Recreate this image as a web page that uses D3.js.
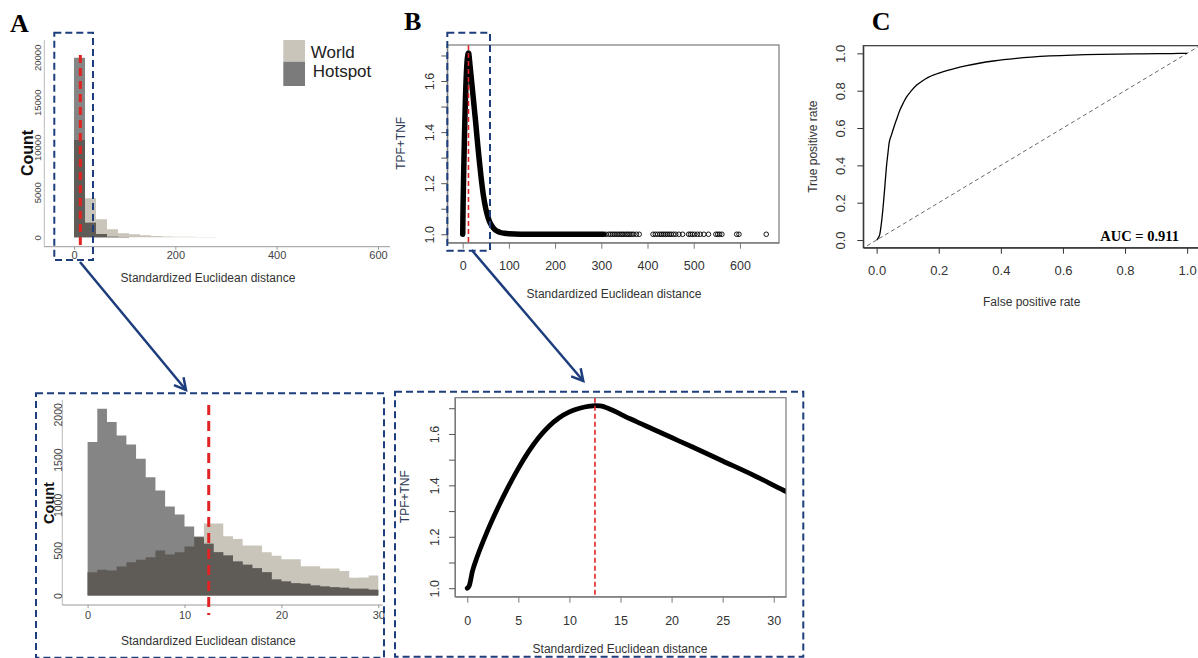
<!DOCTYPE html>
<html><head><meta charset="utf-8">
<script src="https://cdn.jsdelivr.net/npm/d3@7"></script>
<style>body{margin:0;background:#fff}svg{display:block}</style>
</head><body>
<svg id="c" width="1198" height="658"></svg>
<script>
// ---------------- DATA ----------------
// Panel A (overview histogram): bin width in distance units, counts per bin
const histBinWidth = 21.7;
const worldOverview   = [10800, 4330, 2000, 890, 440, 330, 220, 150, 100, 70, 50, 30, 20, 10];
const hotspotOverview = [19950, 1620, 370, 70, 20, 8, 3, 0, 0, 0, 0, 0, 0, 0];
const overviewXTicks = [0, 200, 400, 600];
const overviewYTicks = [0, 5000, 10000, 15000, 20000];

// Panel A zoom (0–30, bin width 1)
const zoomBinStarts = [0,1,2,3,4,5,6,7,8,9,10,11,12,13,14,15,16,17,18,19,20,21,22,23,24,25,26,27,28,29];
const hotspotZoom = [1693,2061,1914,1766,1667,1509,1306,1159,983,894,762,651,570,478,442,375,339,302,258,177,155,136,129,110,99,92,85,74,74,63];
const worldZoom   = [258,283,276,320,368,394,423,497,453,478,541,644,795,795,655,625,551,551,476,439,400,400,322,322,297,297,270,195,200,221];
const zoomHistXTicks = [0, 10, 20, 30];
const zoomHistYTicks = [0, 500, 1000, 1500, 2000];

// Threshold
const threshold = 12.5;

// Panel B: TPF+TNF vs distance
const distCurve = [0,0.2,0.5,1,2,3,4,5,6,7,8,9,10,11,12,12.5,13,14,15,16,17,18,20,22,25,28,31,35,40,45,50,55,60,65,70,80,90,100,150,200,250,305];
const tpfCurve  = [1.0,1.01,1.065,1.125,1.225,1.313,1.393,1.466,1.531,1.586,1.63,1.663,1.686,1.70,1.708,1.71,1.709,1.696,1.677,1.658,1.64,1.622,1.586,1.55,1.495,1.44,1.38,1.305,1.22,1.15,1.10,1.065,1.042,1.028,1.018,1.008,1.004,1.002,1.0,1.0,1.0,1.0];
const tailDist = [310,316,320,324,328,332,336,340,344,347,351,355,358,362,366,370,376,382,412,417,422,427,431,435,439,443,447,451,456,461,468,476,489,493,497,502,508,514,522,532,548,552,556,561,593,598,657];
const tailTpf = tailDist.map(() => 1.0);
const curveXTicks = [0,100,200,300,400,500,600];
const curveZoomXTicks = [0,5,10,15,20,25,30];
const curveYTicks = [1.0,1.1,1.2,1.3,1.4,1.5,1.6,1.7];
const curveYLabels = [1.0,1.2,1.4,1.6];

// Panel C: ROC
const fpr = [0,0.004,0.01,0.016,0.022,0.027,0.032,0.036,0.04,0.048,0.056,0.065,0.075,0.086,0.097,0.112,0.129,0.147,0.166,0.19,0.215,0.25,0.29,0.33,0.376,0.45,0.558,0.72,0.85,0.95,1.0];
const tpr = [0,0.008,0.03,0.1,0.2,0.3,0.4,0.46,0.518,0.565,0.607,0.65,0.696,0.735,0.768,0.8,0.83,0.852,0.871,0.888,0.902,0.918,0.934,0.947,0.959,0.973,0.986,0.995,0.997,0.999,1.0];
const rocTicks = [0,0.2,0.4,0.6,0.8,1.0];
const aucLabel = "AUC = 0.911";

// ---------------- STYLE ----------------
const SANS = "'Liberation Sans', Arial, Helvetica, sans-serif";
const SERIF = "'Liberation Serif', 'Times New Roman', serif";
const C_WORLD = "#c9c5bb", C_HOT = "#858585", C_OVER = "#5f5b56";
const NAVY = "#1d3d7c", RED = "#e32222";

const svg = d3.select("#c");
const fmt1 = d3.format(".1f");

function text(x, y, s, o = {}) {
  const t = svg.append("text").attr("x", x).attr("y", y).text(s)
    .attr("font-family", o.family || SANS).attr("font-size", o.size || 12)
    .attr("fill", o.fill || "#333").attr("text-anchor", o.anchor || "start");
  if (o.weight) t.attr("font-weight", o.weight);
  if (o.rotate) t.attr("transform", `rotate(-90,${x},${y})`);
  return t;
}
function rotateLeftLabels(g, off, size, fill) {
  g.selectAll(".tick text").attr("x", 0).attr("y", 0).attr("dy", null)
    .attr("transform", `translate(${-off},0) rotate(-90)`)
    .attr("text-anchor", "middle").attr("font-size", size)
    .attr("font-family", SANS).attr("fill", fill);
}
// draws a histogram series as one step-shaped area (no seams between bins)
function histArea(g, x, y, starts, width, values, fill) {
  const pts = starts.map((s, i) => [s, values[i]]);
  pts.push([starts[starts.length - 1] + width, values[values.length - 1]]);
  g.append("path").datum(pts)
    .attr("d", d3.area().x(d => x(d[0])).y0(y(0)).y1(d => y(d[1])).curve(d3.curveStepAfter))
    .attr("fill", fill);
}

// ---------------- PANEL A overview ----------------
{
  const x = d3.scaleLinear().domain([0, 600]).range([74, 378]);
  const y = d3.scaleLinear().domain([0, 20000]).range([237.3, 57.3]);
  const g = svg.append("g");
  const starts = worldOverview.map((_, i) => i * histBinWidth);
  histArea(g, x, y, starts, histBinWidth, worldOverview, C_WORLD);
  histArea(g, x, y, starts, histBinWidth, hotspotOverview, C_HOT);
  histArea(g, x, y, starts, histBinWidth, worldOverview.map((w, i) => Math.min(w, hotspotOverview[i])), C_OVER);
  svg.append("line").attr("x1", 44.3).attr("x2", 44.3).attr("y1", 40).attr("y2", 246.7).attr("stroke", "#bbb");
  svg.append("line").attr("x1", 44.3).attr("x2", 390).attr("y1", 246.7).attr("y2", 246.7).attr("stroke", "#999");
  const ax = svg.append("g").attr("transform", "translate(0,246.7)")
    .call(d3.axisBottom(x).tickValues(overviewXTicks).tickSize(3).tickPadding(1.3).tickSizeOuter(0));
  ax.select(".domain").remove();
  ax.selectAll(".tick line").attr("stroke", "#999");
  ax.selectAll(".tick text").attr("font-size", 11).attr("font-family", SANS).attr("fill", "#444");
  const ay = svg.append("g").attr("transform", "translate(44.3,0)")
    .call(d3.axisLeft(y).tickValues(overviewYTicks).tickSize(0).tickFormat(d3.format("d")));
  ay.select(".domain").remove();
  rotateLeftLabels(ay, 3.3, 9.5, "#444");
  text(208, 282, "Standardized Euclidean distance", { anchor: "middle", size: 12, fill: "#333" });
  text(32.7, 153, "Count", { anchor: "middle", size: 16, weight: "bold", fill: "#111", rotate: true });
  svg.append("line").attr("x1", x(threshold)).attr("x2", x(threshold)).attr("y1", 55).attr("y2", 245)
    .attr("stroke", RED).attr("stroke-width", 3).attr("stroke-dasharray", "8,5");
  // legend
  svg.append("rect").attr("x", 283.3).attr("y", 40).attr("width", 21.7).attr("height", 21.7).attr("fill", C_WORLD);
  svg.append("rect").attr("x", 283.3).attr("y", 61.7).attr("width", 21.7).attr("height", 24.3).attr("fill", "#7b7b7b");
  text(310.7, 58.3, "World", { size: 17, fill: "#222" });
  text(312.7, 76.7, "Hotspot", { size: 17, fill: "#222" });
}

// ---------------- PANEL A zoom ----------------
{
  const x = d3.scaleLinear().domain([0, 30]).range([87.6, 378.3]);
  const y = d3.scaleLinear().domain([0, 2000]).range([595.5, 414.3]);
  const g = svg.append("g");
  histArea(g, x, y, zoomBinStarts, 1, worldZoom, C_WORLD);
  histArea(g, x, y, zoomBinStarts, 1, hotspotZoom, C_HOT);
  histArea(g, x, y, zoomBinStarts, 1, worldZoom.map((w, i) => Math.min(w, hotspotZoom[i])), C_OVER);
  svg.append("line").attr("x1", 62.3).attr("x2", 62.3).attr("y1", 400).attr("y2", 605).attr("stroke", "#bbb");
  svg.append("line").attr("x1", 62.3).attr("x2", 382.7).attr("y1", 605).attr("y2", 605).attr("stroke", "#999");
  const ax = svg.append("g").attr("transform", "translate(0,605)")
    .call(d3.axisBottom(x).tickValues(zoomHistXTicks).tickSize(3).tickPadding(3).tickSizeOuter(0));
  ax.select(".domain").remove();
  ax.selectAll(".tick line").attr("stroke", "#999");
  ax.selectAll(".tick text").attr("font-size", 11).attr("font-family", SANS).attr("fill", "#444");
  const ay = svg.append("g").attr("transform", "translate(62.3,0)")
    .call(d3.axisLeft(y).tickValues(zoomHistYTicks).tickSize(0).tickFormat(d3.format("d")));
  ay.select(".domain").remove();
  rotateLeftLabels(ay, 0.8, 10.5, "#444");
  text(208.3, 645, "Standardized Euclidean distance", { anchor: "middle", size: 12, fill: "#333" });
  text(53.5, 503, "Count", { anchor: "middle", size: 14.5, weight: "bold", fill: "#111", rotate: true });
  svg.append("line").attr("x1", x(threshold)).attr("x2", x(threshold)).attr("y1", 405).attr("y2", 615)
    .attr("stroke", RED).attr("stroke-width", 3).attr("stroke-dasharray", "10,6");
}

// ---------------- PANEL B (overview + zoom) ----------------
function curvePanel(opt) {
  const x = d3.scaleLinear().domain(opt.xd).range(opt.xr);
  const y = d3.scaleLinear().domain([0.967, 1.741]).range(opt.yr);
  const id = "clip" + opt.key;
  svg.append("clipPath").attr("id", id).append("rect")
    .attr("x", opt.xr[0]).attr("y", opt.yr[1]).attr("width", opt.xr[1] - opt.xr[0]).attr("height", opt.yr[0] - opt.yr[1]);
  const g = svg.append("g").attr("clip-path", `url(#${id})`);
  const pts = distCurve.map((d, i) => [d, tpfCurve[i]]);
  g.append("path").datum(pts)
    .attr("d", d3.line().x(d => x(d[0])).y(d => y(d[1])).curve(d3.curveMonotoneX))
    .attr("fill", "none").attr("stroke", "#000").attr("stroke-width", opt.lw)
    .attr("stroke-linecap", "round").attr("stroke-linejoin", "round");
  if (opt.tail) {
    g.selectAll(".tc").data(tailDist.map((d, i) => [d, tailTpf[i]])).join("circle")
      .attr("cx", d => x(d[0])).attr("cy", d => y(d[1])).attr("r", 2.3)
      .attr("fill", "none").attr("stroke", "#000").attr("stroke-width", 0.9);
  }
  g.append("line").attr("x1", x(threshold)).attr("x2", x(threshold)).attr("y1", opt.yr[1]).attr("y2", opt.yr[0])
    .attr("stroke", RED).attr("stroke-width", 1.6).attr("stroke-dasharray", "5,3");
  svg.append("rect").attr("x", opt.xr[0]).attr("y", opt.yr[1]).attr("width", opt.xr[1] - opt.xr[0])
    .attr("height", opt.yr[0] - opt.yr[1]).attr("fill", "none").attr("stroke", "#7a7a7a").attr("stroke-width", 1.2);
  const ax = svg.append("g").attr("transform", `translate(0,${opt.yr[0]})`)
    .call(d3.axisBottom(x).tickValues(opt.xt).tickSize(6).tickPadding(opt.xpad).tickSizeOuter(0));
  ax.select(".domain").attr("stroke", "#7a7a7a");
  ax.selectAll(".tick line").attr("stroke", "#7a7a7a");
  ax.selectAll(".tick text").attr("font-size", 12.5).attr("font-family", SANS).attr("fill", "#333");
  const ay = svg.append("g").attr("transform", `translate(${opt.xr[0]},0)`)
    .call(d3.axisLeft(y).tickValues(curveYTicks).tickSize(6).tickSizeOuter(0)
      .tickFormat(v => curveYLabels.some(l => Math.abs(l - v) < 1e-9) ? fmt1(v) : ""));
  ay.select(".domain").attr("stroke", "#7a7a7a");
  ay.selectAll(".tick line").attr("stroke", "#555");
  rotateLeftLabels(ay, opt.yoff, 12.5, "#333");
  text(opt.xlab[0], opt.xlab[1], "Standardized Euclidean distance", { anchor: "middle", size: 12, fill: "#333" });
  text(opt.ylab[0], opt.ylab[1], "TPF+TNF", { anchor: "middle", size: 12, fill: "#2e3a56", rotate: true });
}
curvePanel({ key: "bt", xd: [-33.3, 684.6], xr: [447.3, 779], yr: [242.7, 45], xt: curveXTicks, xpad: 12,
  yoff: 13.7, lw: 5.5, tail: true, xlab: [614, 297.7], ylab: [405, 143.3] });
curvePanel({ key: "bb", xd: [-1.2, 31.2], xr: [455, 786], yr: [596.7, 397.7], xt: curveZoomXTicks, xpad: 13,
  yoff: 16.4, lw: 4.8, tail: false, xlab: [620, 652.7], ylab: [409.3, 496.7] });

// ---------------- PANEL C ROC ----------------
{
  const x = d3.scaleLinear().domain([-0.043, 1.034]).range([863.3, 1197.7]);
  const y = d3.scaleLinear().domain([-0.041, 1.041]).range([247.7, 45.7]);
  svg.append("clipPath").attr("id", "clipC").append("rect")
    .attr("x", 863.3).attr("y", 45.7).attr("width", 334.4).attr("height", 202);
  const g = svg.append("g").attr("clip-path", "url(#clipC)");
  g.append("line").attr("x1", x(-0.05)).attr("y1", y(-0.05)).attr("x2", x(1.1)).attr("y2", y(1.1))
    .attr("stroke", "#555").attr("stroke-width", 0.9).attr("stroke-dasharray", "4,3");
  g.append("path").datum(fpr.map((d, i) => [d, tpr[i]]))
    .attr("d", d3.line().x(d => x(d[0])).y(d => y(d[1])).curve(d3.curveMonotoneX))
    .attr("fill", "none").attr("stroke", "#000").attr("stroke-width", 1.3);
  svg.append("rect").attr("x", 863.3).attr("y", 45.7).attr("width", 336).attr("height", 202)
    .attr("fill", "none").attr("stroke", "#333").attr("stroke-width", 1.2);
  const ax = svg.append("g").attr("transform", "translate(0,247.7)")
    .call(d3.axisBottom(x).tickValues(rocTicks).tickSize(6).tickPadding(12.3).tickSizeOuter(0).tickFormat(fmt1));
  ax.select(".domain").attr("stroke", "#333");
  ax.selectAll(".tick line").attr("stroke", "#333");
  ax.selectAll(".tick text").attr("font-size", 13).attr("font-family", SANS).attr("fill", "#333");
  const ay = svg.append("g").attr("transform", "translate(863.3,0)")
    .call(d3.axisLeft(y).tickValues(rocTicks).tickSize(6).tickSizeOuter(0).tickFormat(fmt1));
  ay.select(".domain").attr("stroke", "#333");
  ay.selectAll(".tick line").attr("stroke", "#333");
  rotateLeftLabels(ay, 18, 13, "#333");
  text(1031.7, 305.5, "False positive rate", { anchor: "middle", size: 12, fill: "#333" });
  text(817, 146.7, "True positive rate", { anchor: "middle", size: 12, fill: "#333", rotate: true });
  text(1179, 240.7, aucLabel, { anchor: "end", size: 14.5, weight: "bold", family: SERIF, fill: "#000" });
}

// ---------------- Panel letters ----------------
text(10, 31.7, "A", { size: 26, weight: "bold", family: SERIF, fill: "#000" });
text(404, 29.5, "B", { size: 26, weight: "bold", family: SERIF, fill: "#000" });
text(871.7, 30, "C", { size: 26, weight: "bold", family: SERIF, fill: "#000" });

// ---------------- Zoom annotations ----------------
const zoomBoxes = [
  [54.3, 32.7, 93, 260], [447.3, 32.7, 490, 250.7],
  [36, 393.3, 384, 657.7], [395, 391.7, 803.3, 656.7]
];
svg.selectAll(".zb").data(zoomBoxes).join("rect")
  .attr("x", d => d[0]).attr("y", d => d[1]).attr("width", d => d[2] - d[0]).attr("height", d => d[3] - d[1])
  .attr("fill", "none").attr("stroke", NAVY).attr("stroke-width", 2).attr("stroke-dasharray", "7,4");
const arrows = [[80, 262, 186, 390], [471.7, 250, 583.3, 381]];
arrows.forEach(a => {
  svg.append("line").attr("x1", a[0]).attr("y1", a[1]).attr("x2", a[2]).attr("y2", a[3])
    .attr("stroke", NAVY).attr("stroke-width", 2.5);
  const ang = Math.atan2(a[3] - a[1], a[2] - a[0]);
  const L = 13, sp = 0.5;
  const p = d3.path();
  p.moveTo(a[2] - L * Math.cos(ang - sp), a[3] - L * Math.sin(ang - sp));
  p.lineTo(a[2], a[3]);
  p.lineTo(a[2] - L * Math.cos(ang + sp), a[3] - L * Math.sin(ang + sp));
  svg.append("path").attr("d", p.toString()).attr("fill", "none").attr("stroke", NAVY)
    .attr("stroke-width", 2.5).attr("stroke-linejoin", "miter");
});
</script>
</body></html>
